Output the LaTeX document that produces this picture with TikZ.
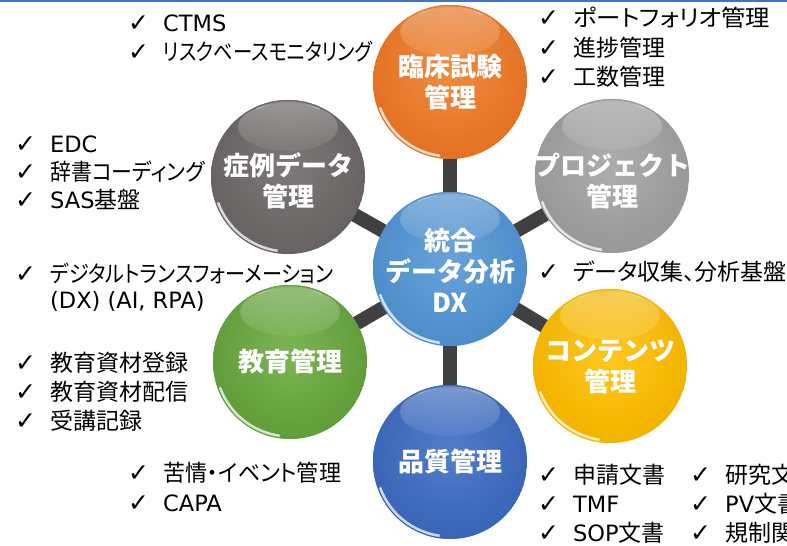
\documentclass[tikz,border=0pt]{standalone}
\usepackage{fontspec}
\usepackage{graphicx}
\setmainfont{Noto Sans CJK JP}[RawFeature=+palt]
\newfontfamily\jpn{Noto Sans CJK JP}
\newfontfamily\symf{DejaVu Sans}
\newfontfamily\latf{DejaVu Sans}
\newcommand\lat[1]{{\latf\fontsize{22.5}{29}\selectfont #1}}
\newcommand\hs[2]{\scalebox{#1}[1]{#2}}
\newcommand\chk{{\symf\bfseries\fontsize{25}{25}\selectfont ✓}}
\newcommand\chkline[3]{\node[lst] (#1) at #2 {\makebox[35pt][l]{\chk}#3};}
\newcommand\ballat[4]{%
\begin{scope}[shift={#1}]
  \begin{scope}
    \clip (0,0) circle (77);
    \fill[#2] (0,0) circle (77);
    \shade[inner color=#3, outer color=#2] (0,22) circle (80);
    \shade[inner color=#2, outer color=#4, opacity=0.6] (0,0) circle (95);
    \shade[top color=white, bottom color=#3, opacity=0.3] (0,50) ellipse (50 and 24);
  \end{scope}
  \draw[white, opacity=0.75, line width=2.5pt] (200:74.5) arc (200:262:74.5);
  \draw[white, opacity=0.25, line width=1.5pt] (65:75) arc (65:115:75);
\end{scope}}
\definecolor{spk}{HTML}{404040}
\definecolor{orB}{HTML}{EF7D2D}\definecolor{orL}{HTML}{F6A465}\definecolor{orD}{HTML}{D9681C}
\definecolor{dgB}{HTML}{767171}\definecolor{dgL}{HTML}{8E8988}\definecolor{dgD}{HTML}{5A5554}
\definecolor{lgB}{HTML}{A5A5A5}\definecolor{lgL}{HTML}{BDBDBD}\definecolor{lgD}{HTML}{8C8C8C}
\definecolor{cbB}{HTML}{5B9BD5}\definecolor{cbL}{HTML}{7FB3E3}\definecolor{cbD}{HTML}{3F7FBF}
\definecolor{yeB}{HTML}{FFC000}\definecolor{yeL}{HTML}{FFD65A}\definecolor{yeD}{HTML}{E6A800}
\definecolor{grB}{HTML}{70AD47}\definecolor{grL}{HTML}{8FC46A}\definecolor{grD}{HTML}{548C30}
\definecolor{bbB}{HTML}{4472C4}\definecolor{bbL}{HTML}{6A90D6}\definecolor{bbD}{HTML}{2F5AA8}
\begin{document}
\begin{tikzpicture}[x=1pt,y=1pt,
  spoke/.style={draw=spk, line width=14pt},
  balltext/.style={text=white, font=\jpn\bfseries\fontsize{26}{31}\selectfont, align=center, inner sep=0pt},
  lst/.style={anchor=base west, inner sep=0pt, font=\fontsize{23}{29}\selectfont, text=black}]
\useasboundingbox (0,0) rectangle (787,-546);
\clip (0,0) rectangle (787,-546);
\fill[white] (0,0) rectangle (787,-546);
\fill[bbB] (0,0) rectangle (787,-1.5);
% centres
\coordinate (c) at (450,-269);
\coordinate (t) at (450,-82);
\coordinate (ur) at (612,-176);
\coordinate (lr) at (610,-366);
\coordinate (b) at (450,-462);
\coordinate (ll) at (290,-362);
\coordinate (ul) at (288,-177);
% spokes
\foreach \p in {t,ur,lr,b,ll,ul} \draw[spoke] (c) -- (\p);
% balls
\ballat{(t)}{orB}{orL}{orD}
\ballat{(ul)}{dgB}{dgL}{dgD}
\ballat{(ur)}{lgB}{lgL}{lgD}
\ballat{(ll)}{grB}{grL}{grD}
\ballat{(lr)}{yeB}{yeL}{yeD}
\ballat{(b)}{bbB}{bbL}{bbD}
\ballat{(c)}{cbB}{cbL}{cbD}
% ball texts
\node[balltext] (tt) at (450,-82) {臨床試験\\管理};
\node[balltext] (ct) at (450,-270) {統合\\データ分析\\DX};
\node[balltext] (ult) at (288,-181) {症例データ\\管理};
\node[balltext] (urt) at (612,-181) {プロジェクト\\管理};
\node[balltext] (llt) at (290,-362) {教育管理};
\node[balltext] (lrt) at (610,-367) {コンテンツ\\管理};
\node[balltext] (bt) at (450,-462) {品質管理};
% lists
\chkline{a1}{(128,-31)}{\lat{CTMS}}
\chkline{a2}{(128,-60)}{\hs{0.84}{リスクベースモニタリング}}
\chkline{b1}{(538,-27)}{\hs{1.06}{ポートフォリオ管理}}
\chkline{b2}{(538,-56)}{進捗管理}
\chkline{b3}{(538,-85)}{工数管理}
\chkline{d1}{(15,-152)}{\lat{EDC}}
\chkline{d2}{(15,-180)}{\hs{0.91}{辞書コーディング}}
\chkline{d3}{(15,-208)}{\lat{SAS}基盤}
\chkline{e1}{(15,-282)}{\hs{0.875}{デジタルトランスフォーメーション}}
\node[lst] (e2) at (50,-308) {\lat{(DX) (AI, RPA)}};
\chkline{f1}{(538,-280)}{データ収集、分析基盤}
\chkline{g1}{(15,-371)}{教育資材登録}
\chkline{g2}{(15,-400)}{教育資材配信}
\chkline{g3}{(15,-429)}{受講記録}
\chkline{h1}{(128,-481)}{\hs{0.96}{苦情・イベント管理}}
\chkline{h2}{(128,-511)}{\lat{CAPA}}
\chkline{i1}{(538,-483)}{申請文書}
\chkline{i2}{(538,-512)}{\lat{TMF}}
\chkline{i3}{(538,-541)}{\lat{SOP}文書}
\chkline{j1}{(690,-483)}{研究文書}
\chkline{j2}{(690,-512)}{\lat{PV}文書}
\chkline{j3}{(690,-541)}{規制関連}
\end{tikzpicture}
\end{document}
